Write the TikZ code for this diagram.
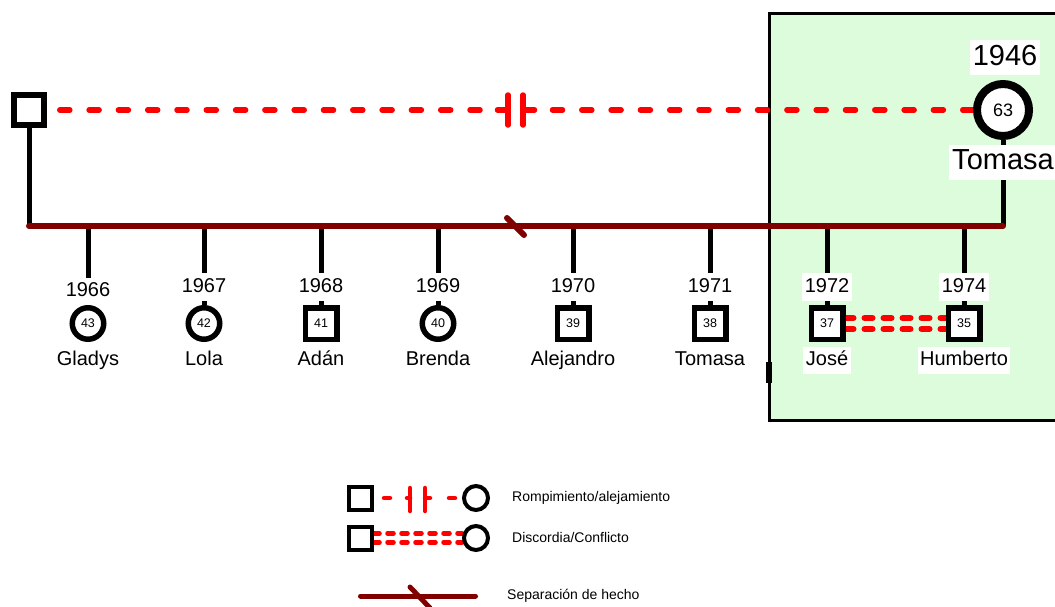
\documentclass[tikz,border=0pt]{standalone}
\usepackage{fontspec}
\setmainfont{Liberation Sans}
\pgfdeclarelayer{bg}
\pgfdeclarelayer{lines}
\pgfsetlayers{bg,lines,main}
\definecolor{sepred}{HTML}{800000}
\definecolor{boxgreen}{HTML}{DCFCDC}
\definecolor{cutred}{HTML}{FF0000}
\newcommand{\myfs}[1]{\fontsize{#1pt}{#1pt}\selectfont}
\begin{document}
\begin{tikzpicture}[x=1pt,y=-1pt,
  female/.style={circle,draw=black,line width=5.5pt,fill=white,minimum size=31.5pt,inner sep=0pt,font=\myfs{12.5}},
  male/.style={rectangle,draw=black,line width=5.5pt,fill=white,minimum size=31.5pt,inner sep=0pt,font=\myfs{12.5}},
  lbl/.style={fill=white,inner xsep=2.5pt,inner ysep=4pt,text height=15pt,text depth=4.5pt,font=\myfs{20}},
  biglbl/.style={fill=white,inner xsep=3pt,inner ysep=3.5pt,text height=21.5pt,text depth=6.5pt,font=\myfs{29}},
  kin/.style={line width=5pt,black},
  sep/.style={line width=6pt,sepred,line cap=round},
  cutline/.style={line width=5.5pt,cutred,line cap=round},
  conflict/.style={line width=6pt,cutred,line cap=round,dash pattern=on 8pt off 11pt},
  legsym/.style={draw=black,line width=4pt,fill=white,minimum size=23pt,inner sep=0pt},
  legtxt/.style={anchor=west,font=\myfs{14},inner sep=0pt},
]
\useasboundingbox (0,0) rectangle (1055,606);

% green box
\begin{pgfonlayer}{bg}
\draw[line width=3pt,fill=boxgreen] (769,13) rectangle (1070,420);
\draw[line width=6pt] (769,362) -- (769,383);
\end{pgfonlayer}

% parents
\node[male,minimum size=30pt,line width=6pt] (F) at (29,110) {};
\node[female,minimum size=52pt,line width=8pt,font=\myfs{18}] (M) at (1003,110) {63};
\node[biglbl] (Myr) at (1005,57.5) {1946};
\node[biglbl] (Mname) at (1003,162) {Tomasa};

\coordinate (barL) at (29,226);
\coordinate (barR) at (1003,226);

% children
\foreach \x/\id/\s/\age/\yr/\yy/\nm in {88/1/female/43/1966/291.5/Gladys, 204/2/female/42/1967/287/Lola, 321/3/male/41/1968/287/Adán, 438/4/female/40/1969/287/Brenda, 573/5/male/39/1970/287/Alejandro, 710/6/male/38/1971/287/Tomasa, 827/7/male/37/1972/287/José, 964/8/male/35/1974/287/Humberto}{
  \node[\s] (c\id) at (\x,323.5) {\age};
  \node[lbl] (y\id) at (\x,\yy) {\yr};
  \node[lbl] (n\id) at (\x,360.5) {\nm};
  \begin{pgfonlayer}{lines}
  \draw[kin] (c\id |- barL) -- (c\id);
  \end{pgfonlayer}
}

% break coordinates
\coordinate (bkL) at (497.5,110);
\coordinate (bk1) at (508,110);
\coordinate (bk2) at (523,110);
\coordinate (bkR) at (534.5,110);

% legend
\node[legsym] (LS1) at (360,498) {};
\node[legsym,circle,minimum size=24pt] (LC1) at (476,498) {};
\node[legsym] (LS2) at (360,538) {};
\node[legsym,circle,minimum size=24pt] (LC2) at (476,538) {};
\coordinate (LL) at (360.5,596);
\coordinate (LR) at (475.5,596);
\node[legtxt] (T1) at (512,497.5) {Rompimiento/alejamiento};
\node[legtxt] (T2) at (512,537.5) {Discordia/Conflicto};
\node[legtxt] (T3) at (507,596) {Separación de hecho};

\begin{pgfonlayer}{lines}
% parents' links
\draw[kin] (F) -- (barL);
\draw[kin] (M) -- (barR);
\draw[sep] (barL) -- (barR);
\draw[sep] (507,218) -- (524,235);
% cut-off
\draw[cutline,dash pattern=on 10pt off 19.3pt,dash phase=16.5pt] (F) -- (490,110);
\draw[cutline] (bkL) -- (bk1);
\draw[cutline] (bk1) ++(0,-15) -- ++(0,30);
\draw[cutline] (bk2) ++(0,-15) -- ++(0,30);
\draw[cutline] (bk2) -- (bkR);
\draw[cutline,dash pattern=on 10pt off 19.3pt,dash phase=11.3pt] (bkR) -- (M);
% conflict
\draw[conflict] ([yshift=5.5pt]c7.east) -- ([yshift=5.5pt]c8.west);
\draw[conflict] ([yshift=-5.5pt]c7.east) -- ([yshift=-5.5pt]c8.west);
% legend lines
\draw[cutline,line width=4.5pt] (384,498) -- (390,498);
\draw[cutline,line width=4.5pt] (407,498) -- (410,498);
\draw[cutline,line width=4.5pt] (410,488) -- (410,511);
\draw[cutline,line width=4.5pt] (425,488) -- (425,511);
\draw[cutline,line width=4.5pt] (425,498) -- (430,498);
\draw[cutline,line width=4.5pt] (449,498) -- (455,498);
\draw[conflict,line width=4.5pt,dash pattern=on 6pt off 8pt] ([yshift=4.5pt]LS2.east) -- ([yshift=4.5pt]LC2.west);
\draw[conflict,line width=4.5pt,dash pattern=on 6pt off 8pt] ([yshift=-4.5pt]LS2.east) -- ([yshift=-4.5pt]LC2.west);
\draw[sep,line width=5pt] (LL) -- (LR);
\draw[sep,line width=5pt] (410,587) -- (430,608);
\end{pgfonlayer}
\end{tikzpicture}
\end{document}
